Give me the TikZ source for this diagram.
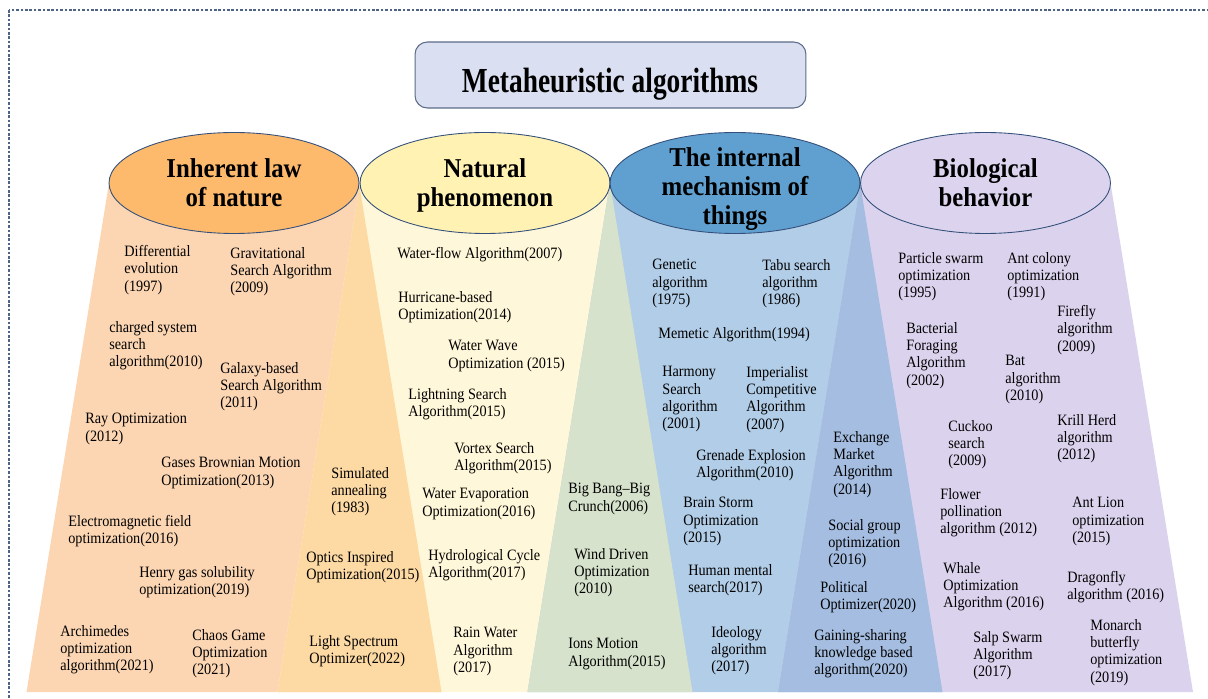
\documentclass[tikz,border=0pt]{standalone}
\usepackage{fontspec}
\setmainfont{Liberation Serif}
\newfontfamily\algofont[FakeStretch=0.9]{Liberation Serif}
\newfontfamily\catfont[FakeStretch=0.91]{Liberation Serif}
\newfontfamily\headfont[FakeStretch=0.78]{Liberation Serif}
\usepackage{tikz}
\usetikzlibrary{shapes.geometric,calc}
\definecolor{frameline}{HTML}{4F6385}
\definecolor{edgeblue}{HTML}{34507A}
\definecolor{headedge}{HTML}{5C6C88}
\definecolor{headbg}{HTML}{DAE0F1}
\definecolor{orgell}{HTML}{FDB96C}
\definecolor{orgbeam}{HTML}{FCD6B3}
\definecolor{orgylw}{HTML}{FDD9A3}
\definecolor{ylwell}{HTML}{FFF2B2}
\definecolor{ylwbeam}{HTML}{FFF7D9}
\definecolor{ylwblu}{HTML}{D6E2CB}
\definecolor{bluell}{HTML}{60A0D0}
\definecolor{blubeam}{HTML}{B2CDE7}
\definecolor{blupur}{HTML}{A4BDE0}
\definecolor{purell}{HTML}{DCD4EE}
\definecolor{purbeam}{HTML}{DBD3EE}
\tikzset{
  headbox/.style={draw=headedge,fill=headbg,line width=0.6pt,rounded corners=7pt,
                  minimum width=7.82cm,minimum height=1.32cm,inner sep=0pt},
  headtext/.style={font=\headfont\bfseries\fontsize{20}{24}\selectfont,inner sep=0pt},
  catell/.style={ellipse,draw=edgeblue,line width=0.5pt,
                 minimum width=5cm,minimum height=2.02cm,inner sep=0pt},
  cattext/.style={font=\catfont\bfseries\fontsize{15.5}{16.5}\selectfont,
                  align=center,inner sep=0pt,anchor=north},
  algo/.style={font=\algofont\fontsize{9}{9.85}\selectfont,
               align=left,inner sep=0pt,anchor=north west}
}
\begin{document}
\begin{tikzpicture}[x=0.02cm,y=-0.02cm]
  \useasboundingbox (0,0) rectangle (1208,699);
  \clip (0,0) rectangle (1208,699);
  \draw[frameline,line width=0.6pt,dash pattern=on 1.5pt off 1pt] (9,10) rectangle (1230,720);

  \node[headbox] (meta) at (610.5,75) {};
  \node[headtext,anchor=base] (metatxt) at (610,93) {Metaheuristic algorithms};

  % beams under the four categories
  \foreach \cx/\col in {234/orgbeam,485/ylwbeam,735/blubeam,985.5/purbeam}
    \fill[\col] (\cx-125,183) -- (\cx+125,183) -- (\cx+207.5,692) -- (\cx-207.5,692) -- cycle;
  \fill[orgylw] (359.5,186) -- (441.5,692) -- (277.5,692) -- cycle;
  \fill[ylwblu] (610,183) -- (692.5,692) -- (527.5,692) -- cycle;
  \fill[blupur] (860.25,184) -- (942.5,692) -- (778,692) -- cycle;

  \node[catell,fill=orgell] (law) at (234,183) {};
  \node[catell,fill=ylwell] (phen) at (485,183) {};
  \node[catell,fill=bluell] (mech) at (735,183) {};
  \node[catell,fill=purell] (bio) at (985.5,183) {};
  \node[cattext] (lawtxt) at (234,158) {Inherent law\\of nature};
  \node[cattext] (phentxt) at (485,158) {Natural\\phenomenon};
  \node[cattext] (mechtxt) at (735,147.5) {The internal\\mechanism of\\things};
  \node[cattext] (biotxt) at (985.5,158) {Biological\\behavior};

  \node[algo] (de) at (124,245) {Differential\\evolution\\(1997)};
  \node[algo] (gsa) at (230,247) {Gravitational\\Search Algorithm\\(2009)};
  \node[algo] (css) at (109,321) {charged system\\search\\algorithm(2010)};
  \node[algo] (gbsa) at (220,362) {Galaxy-based\\Search Algorithm\\(2011)};
  \node[algo] (ro) at (85,413) {Ray Optimization\\(2012)};
  \node[algo] (gbmo) at (161,457) {Gases Brownian Motion\\Optimization(2013)};
  \node[algo] (efo) at (68,515) {Electromagnetic field\\optimization(2016)};
  \node[algo] (hgso) at (139,566) {Henry gas solubility\\optimization(2019)};
  \node[algo] (aoa) at (60,625) {Archimedes\\optimization\\algorithm(2021)};
  \node[algo] (cgo) at (192,629) {Chaos Game\\Optimization\\(2021)};

  \node[algo] (sa) at (331,467) {Simulated\\annealing\\(1983)};
  \node[algo] (oio) at (306,551) {Optics Inspired\\Optimization(2015)};
  \node[algo] (lso) at (309,635) {Light Spectrum\\Optimizer(2022)};

  \node[algo] (wfa) at (397,247) {Water-flow Algorithm(2007)};
  \node[algo] (hbo) at (398,291) {Hurricane-based\\Optimization(2014)};
  \node[algo] (wwo) at (448,340) {Water Wave\\Optimization (2015)};
  \node[algo] (lsa) at (408,388) {Lightning Search\\Algorithm(2015)};
  \node[algo] (vsa) at (454,442) {Vortex Search\\Algorithm(2015)};
  \node[algo] (weo) at (422,488) {Water Evaporation\\Optimization(2016)};
  \node[algo] (hca) at (428,549) {Hydrological Cycle\\Algorithm(2017)};
  \node[algo] (rwa) at (453,627) {Rain Water\\Algorithm\\(2017)};

  \node[algo] (bbbc) at (568,483) {Big Bang–Big\\Crunch(2006)};
  \node[algo] (wdo) at (574,548) {Wind Driven\\Optimization\\(2010)};
  \node[algo] (ima) at (568,638) {Ions Motion\\Algorithm(2015)};

  \node[algo] (ga) at (652,259) {Genetic\\algorithm\\(1975)};
  \node[algo] (tsa) at (762,259) {Tabu search\\algorithm\\(1986)};
  \node[algo] (ma) at (658,327) {Memetic Algorithm(1994)};
  \node[algo] (hs) at (662,366) {Harmony\\Search\\algorithm\\(2001)};
  \node[algo] (ica) at (746,366) {Imperialist\\Competitive\\Algorithm\\(2007)};
  \node[algo] (gea) at (696,449) {Grenade Explosion\\Algorithm(2010)};
  \node[algo] (bso) at (683,497) {Brain Storm\\Optimization\\(2015)};
  \node[algo] (hms) at (688,564) {Human mental\\search(2017)};
  \node[algo] (ia) at (711,626) {Ideology\\algorithm\\(2017)};

  \node[algo] (ema) at (833,431) {Exchange\\Market\\Algorithm\\(2014)};
  \node[algo] (sgo) at (828,519) {Social group\\optimization\\(2016)};
  \node[algo] (po) at (820,581) {Political\\Optimizer(2020)};
  \node[algo] (gsk) at (814,629) {Gaining-sharing\\knowledge based\\algorithm(2020)};

  \node[algo] (pso) at (898,252) {Particle swarm\\optimization\\(1995)};
  \node[algo] (aco) at (1007,252) {Ant colony\\optimization\\(1991)};
  \node[algo] (ffa) at (1057,305) {Firefly\\algorithm\\(2009)};
  \node[algo] (bfa) at (906,322) {Bacterial\\Foraging\\Algorithm\\(2002)};
  \node[algo] (ba) at (1005,355) {Bat\\algorithm\\(2010)};
  \node[algo] (cs) at (948,420) {Cuckoo\\search\\(2009)};
  \node[algo] (kh) at (1057,414) {Krill Herd\\algorithm\\(2012)};
  \node[algo] (fpa) at (940,488) {Flower\\pollination\\algorithm (2012)};
  \node[algo] (alo) at (1072,497) {Ant Lion\\optimization\\(2015)};
  \node[algo] (woa) at (943,562) {Whale\\Optimization\\Algorithm (2016)};
  \node[algo] (da) at (1067,571) {Dragonfly\\algorithm (2016)};
  \node[algo] (ssa) at (973,631) {Salp Swarm\\Algorithm\\(2017)};
  \node[algo] (mbo) at (1090,619) {Monarch\\butterfly\\optimization\\(2019)};
\end{tikzpicture}
\end{document}
